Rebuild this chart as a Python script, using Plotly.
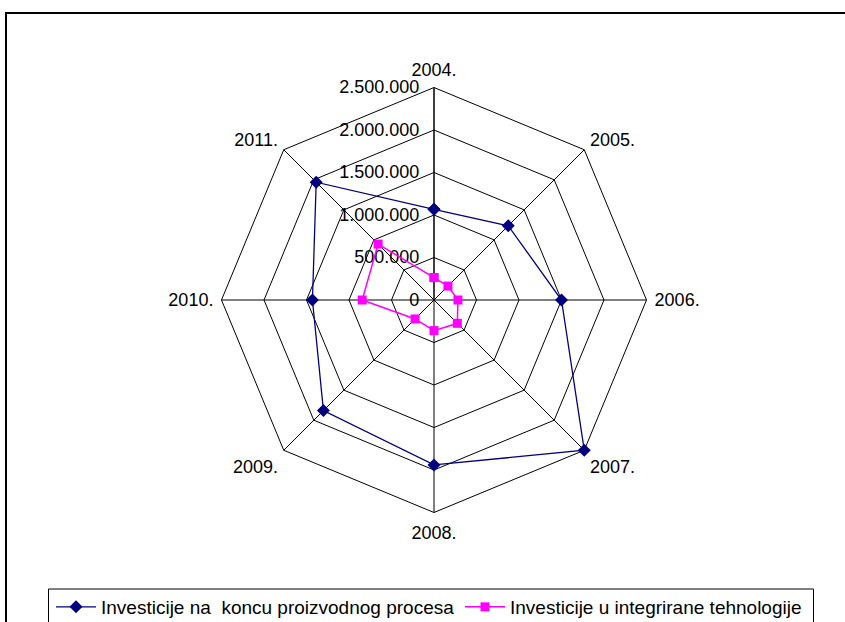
import plotly.graph_objects as go

categories = ["2004.", "2005.", "2006.", "2007.", "2008.", "2009.", "2010.", "2011."]
series1_name = "Investicije na  koncu proizvodnog procesa"
series1 = [1067000, 1235000, 1500000, 2500000, 1940000, 1840000, 1430000, 1960000]
series2_name = "Investicije u integrirane tehnologije"
series2 = [264000, 232000, 282000, 388000, 360000, 315000, 845000, 930000]
tick_vals = [0, 500000, 1000000, 1500000, 2000000, 2500000]
tick_text = ["0", "500.000", "1.000.000", "1.500.000", "2.000.000", "2.500.000"]

W, H = 845, 622
FONT = "Liberation Sans, Arial, sans-serif"

fig = go.Figure()
fig.add_trace(go.Scatterpolar(
    r=series1 + series1[:1], theta=categories + categories[:1],
    mode="lines+markers", name=series1_name, legend="legend",
    line=dict(color="#000080", width=1.3),
    marker=dict(symbol="diamond", size=10, color="#000080"),
))
fig.add_trace(go.Scatterpolar(
    r=series2 + series2[:1], theta=categories + categories[:1],
    mode="lines+markers", name=series2_name, legend="legend2",
    line=dict(color="#FF00FF", width=1.5),
    marker=dict(symbol="square", size=9, color="#FF00FF"),
))

cx, cy, R = 434, 300, 212.5
legend_common = dict(
    orientation="h", xanchor="left", y=(H - 588) / H, yanchor="top",
    borderwidth=0, bgcolor="rgba(0,0,0,0)",
    font=dict(size=19, family=FONT, color="black"),
    itemwidth=40,
)
fig.update_layout(
    width=W, height=H,
    margin=dict(l=0, r=0, t=0, b=0, autoexpand=False),
    paper_bgcolor="white",
    font=dict(family=FONT, size=18, color="black"),
    polar=dict(
        domain=dict(x=[(cx - R) / W, (cx + R) / W],
                    y=[(H - cy - R) / H, (H - cy + R) / H]),
        bgcolor="white",
        gridshape="linear",
        angularaxis=dict(
            type="category", categoryarray=categories,
            rotation=90, direction="clockwise",
            showline=True, linecolor="black", linewidth=1,
            gridcolor="black", gridwidth=1,
            ticks="outside", ticklen=4, tickcolor="rgba(0,0,0,0)",
            layer="below traces",
            tickfont=dict(size=18, family=FONT, color="black"),
        ),
        radialaxis=dict(
            range=[0, 2500000], angle=90, side="counterclockwise",
            tickvals=tick_vals, ticktext=tick_text, tickangle=90,
            showline=True, linecolor="black", linewidth=1,
            gridcolor="black", gridwidth=1,
            ticks="outside", ticklen=8, tickcolor="rgba(0,0,0,0)",
            layer="below traces",
            tickfont=dict(size=18, family=FONT, color="black"),
        ),
    ),
    showlegend=True,
    legend=dict(x=51 / W, **legend_common),
    legend2=dict(x=460 / W, **legend_common),
    shapes=[
        dict(type="rect", xref="paper", yref="paper",
             x0=6 / W, x1=1.05, y0=-0.05, y1=(H - 13) / H,
             line=dict(color="black", width=2), fillcolor="rgba(0,0,0,0)", layer="below"),
        dict(type="rect", xref="paper", yref="paper",
             x0=48.5 / W, x1=813.5 / W, y0=-0.05, y1=(H - 589) / H,
             line=dict(color="black", width=1), fillcolor="rgba(0,0,0,0)", layer="below"),
    ],
)

fig.write_html(
    "out.html",
    config={"displayModeBar": False},
    post_script="document.body.style.margin='0';document.body.style.overflow='hidden';",
)
